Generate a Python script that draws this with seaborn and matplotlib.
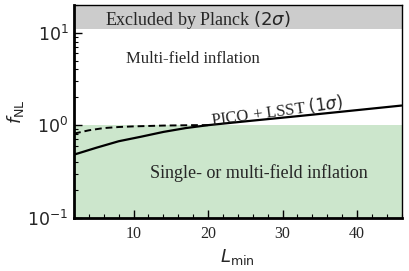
import numpy as np
import pandas as pd
import matplotlib
matplotlib.use("Agg")
import matplotlib.pyplot as plt
import seaborn as sns

# Data
L_solid = [2, 5, 8, 11, 14, 17, 20, 26, 32, 38, 46]
f_solid = [0.48, 0.57, 0.67, 0.75, 0.845, 0.93, 1.0, 1.12, 1.25, 1.40, 1.63]
L_dashed = [2, 4, 6, 8, 10, 12, 14, 16, 18, 20]
f_dashed = [0.81, 0.88, 0.93, 0.955, 0.97, 0.98, 0.99, 0.995, 1.0, 1.0]

planck_limit = 10.9
single_field_limit = 1.0
xlim = (2, 46)
ylim = (0.1, 20)
x_ticks = [10, 20, 30, 40]
y_ticks = [0.1, 1, 10]
y_ticklabels = [r"$10^{-1}$", r"$10^{0}$", r"$10^{1}$"]

sns.set_style("white")
plt.rcParams["font.family"] = ["Liberation Serif", "DejaVu Serif"]
plt.rcParams["mathtext.fontset"] = "dejavusans"
plt.rcParams["xtick.direction"] = "in"
plt.rcParams["ytick.direction"] = "in"

fig = plt.figure(figsize=(4.09, 2.71), dpi=100)
ax = fig.add_axes([0.181, 0.197, 0.801, 0.785])

ax.axhspan(ylim[0], single_field_limit, color=(0.8, 0.9, 0.8), lw=0, zorder=0)
ax.axhspan(planck_limit, ylim[1], color=(0.8, 0.8, 0.8), lw=0, zorder=0)

df_s = pd.DataFrame({"L": L_solid, "f": f_solid})
df_d = pd.DataFrame({"L": L_dashed, "f": f_dashed})
sns.lineplot(data=df_s, x="L", y="f", ax=ax, color="black", lw=1.6, zorder=3)
sns.lineplot(data=df_d, x="L", y="f", ax=ax, color="black", lw=1.4,
             linestyle=(0, (3.5, 2)), zorder=3)

ax.set_yscale("log")
ax.set_xlim(*xlim)
ax.set_ylim(*ylim)
ax.set_xticks(x_ticks)
ax.xaxis.set_minor_locator(matplotlib.ticker.MultipleLocator(2))
ax.set_yticks(y_ticks)
ax.set_yticklabels(y_ticklabels, fontfamily="DejaVu Sans", fontsize=12.5)
ax.yaxis.set_minor_formatter(matplotlib.ticker.NullFormatter())
ax.tick_params(axis="both", which="both", direction="in", top=False, right=False,
               bottom=True, left=True, color="black")
ax.tick_params(axis="both", which="major", length=6, width=1)
ax.tick_params(axis="both", which="minor", length=3, width=0.8)
ax.tick_params(axis="x", labelsize=11.5, pad=6)
ax.tick_params(axis="y", which="major", pad=4)

for side in ["left", "bottom"]:
    ax.spines[side].set_linewidth(2)
for side in ["top", "right"]:
    ax.spines[side].set_linewidth(1)
for s in ax.spines.values():
    s.set_color("black")

ax.set_xlabel(r"$L_{\rm min}$", fontsize=13)
ax.set_ylabel(r"$f_{\rm NL}$", fontsize=13)
ax.xaxis.set_label_coords(0.5, -0.136)
ax.yaxis.set_label_coords(-0.148, 0.5)

ax.text(18.6, 13.8, r"Excluded by Planck $(2\sigma)$", ha="center", va="center", fontsize=13)
ax.text(17.9, 5.2, "Multi-field inflation", ha="center", va="center", fontsize=12)
ax.text(26.8, 0.30, "Single- or multi-field inflation", ha="center", va="center", fontsize=13)
ax.text(29.2, 1.45, r"PICO + LSST $(1\sigma)$", ha="center", va="center", fontsize=12,
        rotation=7.5)

fig.savefig("out.png", dpi=100)
